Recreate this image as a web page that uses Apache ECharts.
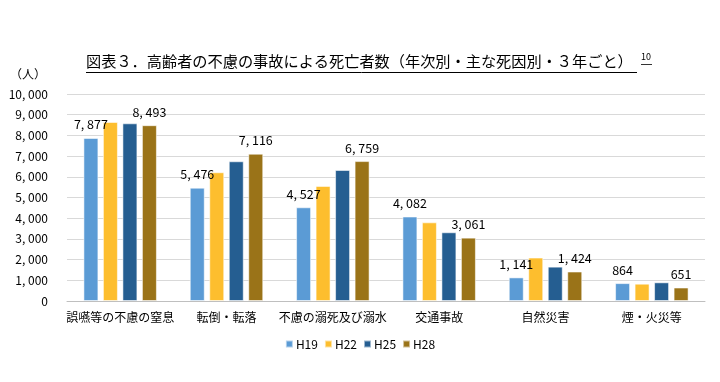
<!DOCTYPE html>
<html>
<head>
<meta charset="utf-8">
<script src="https://cdn.jsdelivr.net/npm/echarts@6/dist/echarts.min.js"></script>
<style>html,body{margin:0;padding:0;background:#fff;}#c{width:720px;height:382px;}</style>
</head>
<body>
<div id="c"></div>
<script>
const categories = ['誤嚥等の不慮の窒息', '転倒・転落', '不慮の溺死及び溺水', '交通事故', '自然災害', '煙・火災等'];
const seriesNames = ['H19', 'H22', 'H25', 'H28'];
const h19 = [7877, 5476, 4527, 4082, 1141, 864];
const h22 = [8650, 6220, 5560, 3800, 2100, 836];
const h25 = [8584, 6750, 6330, 3320, 1660, 903];
const h28 = [8493, 7116, 6759, 3061, 1424, 651];
const yTicks = [0, 1000, 2000, 3000, 4000, 5000, 6000, 7000, 8000, 9000, 10000];
const colors = ['#5B9BD5', '#FDBE2E', '#255E91', '#9A7318'];
const labelled = [true, false, false, true];
const allData = [h19, h22, h25, h28];

const fmt = v => {
  const s = String(v);
  return s.length > 3 ? s.slice(0, s.length - 3) + ', ' + s.slice(-3) : s;
};
const font = '"Noto Sans CJK JP", "Liberation Sans", sans-serif';

const chart = echarts.init(document.getElementById('c'));
chart.setOption({
  animation: false,
  title: {
    text: '図表３．高齢者の不慮の事故による死亡者数（年次別・主な死因別・３年ごと）',
    left: 81, top: 49,
    textStyle: { fontFamily: font, fontSize: 15.2, fontWeight: 'normal', color: '#000' }
  },
  graphic: [
    { type: 'line', shape: { x1: 86, y1: 72.5, x2: 637, y2: 72.5 }, style: { stroke: '#000', lineWidth: 1 } },
    { type: 'text', left: 641, top: 52, style: { text: '10', font: '9px ' + font, fill: '#000' } },
    { type: 'line', shape: { x1: 641, y1: 64.5, x2: 652, y2: 64.5 }, style: { stroke: '#000', lineWidth: 0.8 } },
    { type: 'text', left: 10, top: 68, style: { text: '（人）', font: '12px ' + font, fill: '#000' } }
  ],
  legend: {
    data: seriesNames,
    bottom: 27, left: 'center',
    icon: 'rect', itemWidth: 7, itemHeight: 7, itemGap: 6,
    textStyle: { fontFamily: font, fontSize: 12, color: '#000', padding: [0, 0, 0, -2] }
  },
  grid: { left: 67, right: 15, top: 94, bottom: 81, containLabel: false },
  xAxis: {
    type: 'category', data: categories,
    axisLine: { lineStyle: { color: '#BFBFBF' } },
    axisTick: { show: false },
    axisLabel: { fontFamily: font, fontSize: 12, color: '#000', margin: 10, interval: 0 }
  },
  yAxis: {
    type: 'value', min: 0, max: 10000, interval: 1000,
    axisLine: { show: false }, axisTick: { show: false },
    splitLine: { lineStyle: { color: '#D9D9D9' } },
    axisLabel: {
      fontFamily: font, fontSize: 12, color: '#000', margin: 19,
      formatter: v => yTicks.includes(v) ? fmt(v) : ''
    }
  },
  series: seriesNames.map((name, i) => ({
    name, type: 'bar', data: allData[i],
    barWidth: 15, barGap: '30%',
    itemStyle: { color: colors[i], borderColor: 'rgba(255,255,255,0.55)', borderWidth: 1 },
    label: {
      show: labelled[i], position: 'top', distance: 7,
      fontFamily: font, fontSize: 12.5, color: '#000',
      formatter: p => fmt(p.value)
    }
  }))
});
</script>
</body>
</html>
